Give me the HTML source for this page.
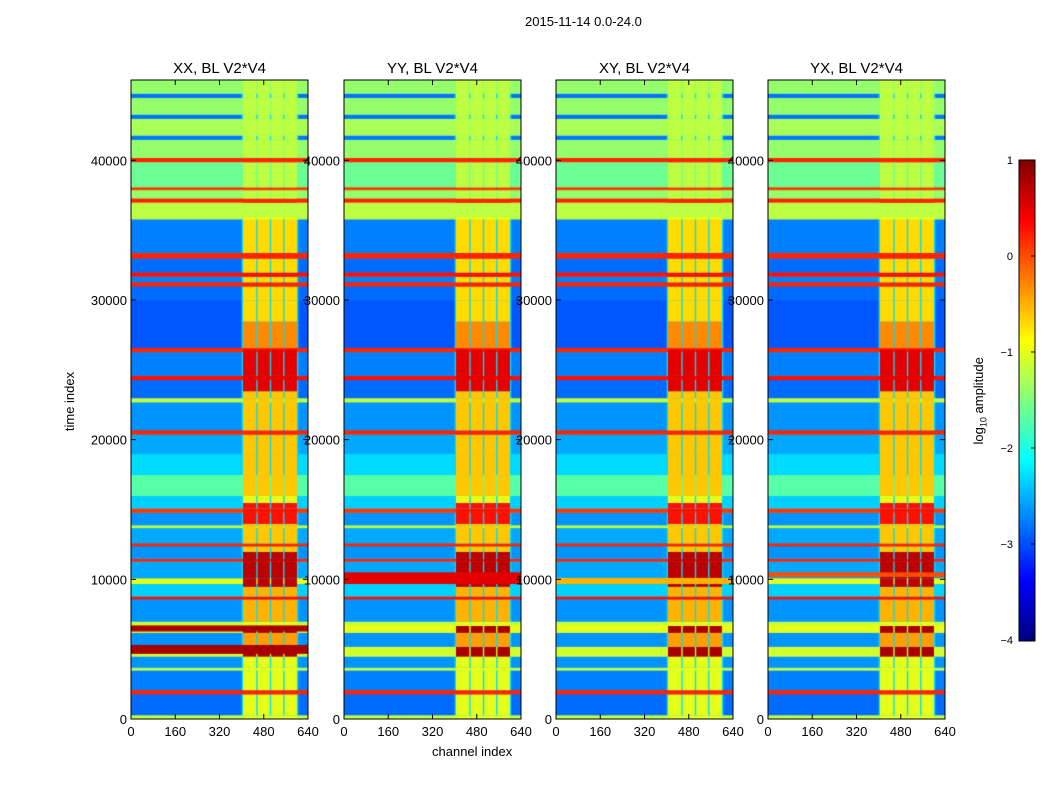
<!DOCTYPE html>
<html><head><meta charset="utf-8">
<style>
body{margin:0;background:#fff;width:1050px;height:800px;overflow:hidden;font-family:"Liberation Sans",sans-serif;}
#wrap{position:relative;width:1050px;height:800px;}
.t{position:absolute;font-size:13px;color:#000;white-space:nowrap;}
canvas{position:absolute;}
</style></head><body>
<div id="wrap">
<div class="t" style="left:525px;top:14px;">2015-11-14 0.0-24.0</div>
<div class="t" style="left:40px;top:394px;transform:rotate(-90deg);transform-origin:center;">time index</div>
<div class="t" style="left:432px;top:744px;">channel index</div>
<div class="t" style="left:936px;top:392px;transform:rotate(-90deg);">log<sub style="font-size:9px">10</sub> amplitude</div>
<canvas id="cb" width="16" height="481" style="left:1019px;top:160px;"></canvas>
<svg id="ov" width="1050" height="800" style="position:absolute;left:0;top:0"></svg>
</div>
<script>
const panelNames=["XX, BL V2*V4","YY, BL V2*V4","XY, BL V2*V4","YX, BL V2*V4"];
const xTicks=[0,160,320,480,640];
const yTicks=[0,10000,20000,30000,40000];
const cbTicks=[1,0,-1,-2,-3,-4];
const timeBands=[[0,300,-1.2],[300,1800,-2.85],[1800,2100,0.2],[2100,3500,-2.75],[3500,3700,-1.2],[3700,4500,-2.65],[4500,5200,-1.1],[5200,6200,-2.65],[6200,6800,-1.0],[6800,7000,-1.2],[7000,8600,-2.65],[8600,8800,0.3],[8800,9700,-2.35],[9700,10100,-1.0],[10100,11300,-2.55],[11300,11500,0.2],[11500,12400,-2.65],[12400,12600,0.2],[12600,13700,-2.55],[13700,13900,-1.2],[13900,14800,-2.65],[14800,15100,0.1],[15100,16000,-2.35],[16000,17500,-1.7],[17500,19000,-2.3],[19000,20400,-2.55],[20400,20700,0.2],[20700,22700,-2.65],[22700,23000,-1.2],[23000,24300,-2.85],[24300,24600,0.3],[24600,26300,-2.75],[26300,26600,0.2],[26600,30000,-2.95],[30000,31000,-2.85],[31000,31300,0.2],[31300,31700,-2.75],[31700,32000,0.3],[32000,33000,-2.85],[33000,33400,0.2],[33400,35800,-2.75],[35800,37000,-1.2],[37000,37300,0.2],[37300,37900,-1.4],[37900,38100,0.1],[38100,39900,-1.6],[39900,40200,0.2],[40200,41500,-1.4],[41500,41800,-2.8],[41800,43000,-1.3],[43000,43300,-2.8],[43300,44500,-1.4],[44500,44800,-2.8],[44800,45800,-1.4]];
const hotBands=[[4500,5200,0.8],[5200,6200,-0.4],[6200,6700,0.8],[7000,9500,-0.5],[9500,12000,0.7],[12000,14000,-0.6],[14000,15500,0.3],[16000,23500,-0.6],[23500,26500,0.5],[26500,28500,-0.3],[28500,35800,-0.7],[36000,45800,-1.2]];
const panelBands=[[[4700,5300,0.8],[6300,6700,0.8]],[[9700,10500,0.5]],[[9700,10100,-0.5]],[[10200,10500,0.0]]];
const hotCols=[[405,453],[458,502],[507,550],[555,600]];
const hotDefault=-1.0;
const vmin=-4,vmax=1;
const panelX=[131,344,556,768], panelW=177, pTop=80, pBottom=719, tMax=45750;
function jet(v){let u=(v-vmin)/(vmax-vmin);u=Math.max(0,Math.min(1,u));const c=x=>Math.round(255*Math.max(0,Math.min(1,1.5-Math.abs(x))));return `rgb(${c(4*u-3)},${c(4*u-2)},${c(4*u-1)})`;}
function xs(c){return c/640*panelW;}
function ys(t){return (pBottom-pTop)-t/tMax*(pBottom-pTop);}
const ov=document.getElementById('ov');const NS="http://www.w3.org/2000/svg";
function add(tag,attrs,txt){const e=document.createElementNS(NS,tag);for(const k in attrs)e.setAttribute(k,attrs[k]);if(txt!==undefined)e.textContent=txt;ov.appendChild(e);return e;}
function bandAt(bands,t){for(const b of bands)if(t>=b[0]&&t<b[1])return b[2];return null;}
panelNames.forEach((nm,p)=>{
  const cv=document.createElement('canvas');cv.width=panelW;cv.height=pBottom-pTop;
  cv.style.left=panelX[p]+'px';cv.style.top=pTop+'px';
  
  
  document.getElementById('wrap').insertBefore(cv,ov);
  const g=cv.getContext('2d');
  timeBands.forEach(b=>{g.fillStyle=jet(b[2]);g.fillRect(0,ys(b[1]),xs(640),ys(b[0])-ys(b[1])+0.5);});
  const edges=[];timeBands.forEach(b=>edges.push(b[0],b[1]));hotBands.forEach(b=>edges.push(b[0],b[1]));
  const uniq=[...new Set(edges)].sort((a,b)=>a-b);
  for(let i=0;i<uniq.length-1;i++){
    const t0=uniq[i],t1=uniq[i+1],tm=(t0+t1)/2;
    const base=bandAt(timeBands,tm);let hv=bandAt(hotBands,tm);if(hv===null)hv=hotDefault;
    const v=Math.max(hv,base===null?-4:base);
    g.fillStyle=jet(Math.max(-2.3,base===null?-4:base));g.fillRect(xs(400),ys(t1),xs(605)-xs(400),ys(t0)-ys(t1)+0.5);
    hotCols.forEach(c=>{g.fillStyle=jet(v);g.fillRect(xs(c[0]),ys(t1),xs(c[1])-xs(c[0]),ys(t0)-ys(t1)+0.5);});
  }
  panelBands[p].forEach(b=>{g.fillStyle=jet(b[2]);g.fillRect(0,ys(b[1]),xs(640),ys(b[0])-ys(b[1])+0.5);});
  const x0=panelX[p];
  add('rect',{x:x0,y:pTop,width:panelW,height:pBottom-pTop,fill:'none',stroke:'#000','stroke-width':1,});
  add('text',{x:x0+panelW/2,y:73,'text-anchor':'middle','font-size':15,'font-family':'Liberation Sans',},nm);
  xTicks.forEach(v=>{const x=x0+xs(v);add('line',{x1:x,x2:x,y1:pBottom,y2:pBottom-5,stroke:'#000'});add('line',{x1:x,x2:x,y1:pTop,y2:pTop+5,stroke:'#000'});
    add('text',{x:x,y:pBottom+17,'text-anchor':'middle','font-size':13,'font-family':'Liberation Sans',},v);});
  yTicks.forEach(v=>{const y=pTop+ys(v);add('line',{x1:x0,x2:x0+5,y1:y,y2:y,stroke:'#000'});add('line',{x1:x0+panelW,x2:x0+panelW-5,y1:y,y2:y,stroke:'#000'});
    add('text',{x:x0-4,y:y+5,'text-anchor':'end','font-size':13,'font-family':'Liberation Sans',},v);});
});
const cb=document.getElementById('cb').getContext('2d');
for(let i=0;i<481;i++){cb.fillStyle=jet(vmax-(i/480)*(vmax-vmin));cb.fillRect(0,i,16,1);}
add('rect',{x:1019,y:160,width:16,height:481,fill:'none',stroke:'#000'});
cbTicks.forEach(v=>{const y=160+(vmax-v)/(vmax-vmin)*480;add('line',{x1:1031,x2:1035,y1:y,y2:y,stroke:'#000'});
  add('text',{x:1013,y:y+4,'text-anchor':'end','font-size':11,'font-family':'Liberation Sans',},v<0?'\u2212'+(-v):v);});
</script>
</body></html>
